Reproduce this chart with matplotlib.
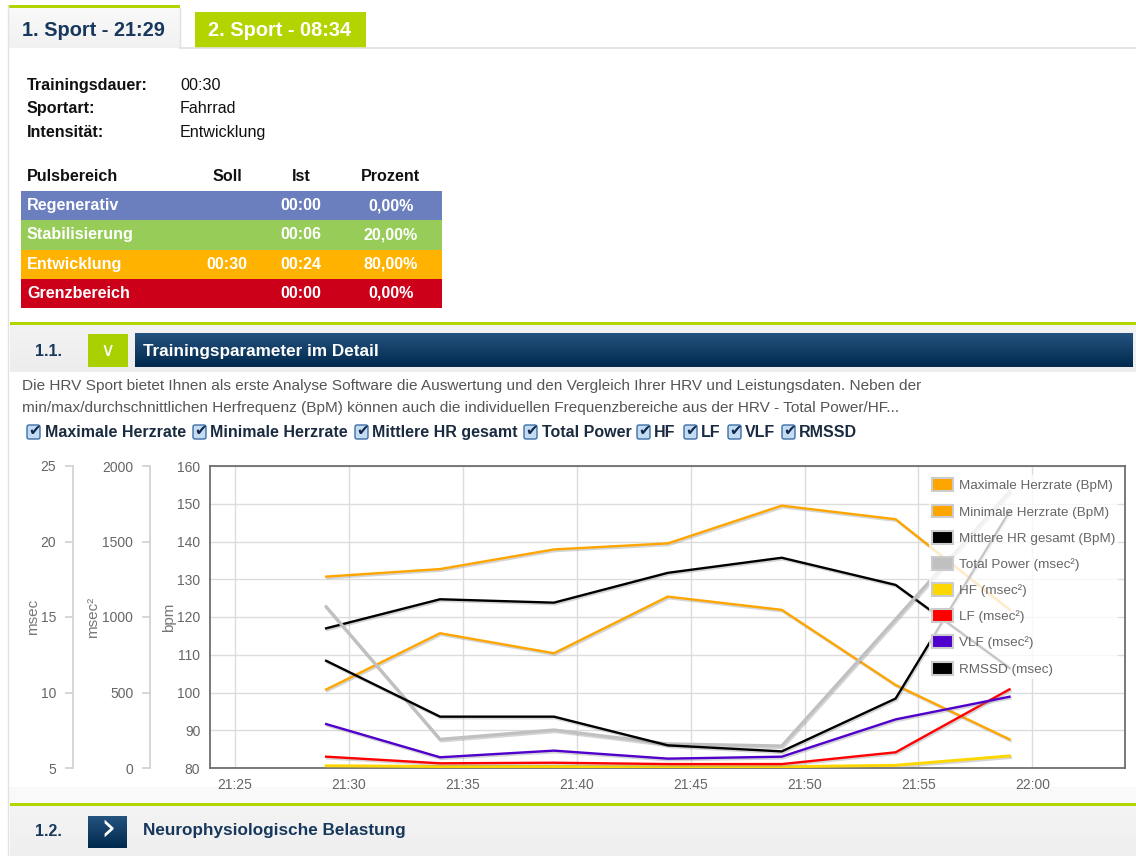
import numpy as np
import matplotlib
matplotlib.use("Agg")
import matplotlib.pyplot as plt
import matplotlib.patheffects as pe
from matplotlib.patches import Rectangle, Patch, FancyBboxPatch
from matplotlib.colors import LinearSegmentedColormap

plt.rcParams["font.family"] = ["Liberation Sans", "DejaVu Sans"]

W, H = 1136, 856

# --- data ---
times = ["21:29", "21:34", "21:39", "21:44", "21:49", "21:54", "21:59"]
max_hr = [130.7, 132.7, 137.9, 139.5, 149.5, 145.9, 122.0]
min_hr = [100.8, 115.7, 110.4, 125.4, 121.9, 102.0, 87.6]
avg_hr = [117.0, 124.7, 123.8, 131.7, 135.7, 128.5, 106.5]
total_power = [1068, 190, 252, 160, 146, 985, 1830]
hf = [15, 10, 10, 8, 8, 18, 80]
lf = [75, 31, 35, 26, 26, 104, 521]
vlf = [291, 71, 115, 62, 75, 322, 472]
rmssd = [12.1, 8.4, 8.4, 6.5, 6.1, 9.6, 22.0]

x_ticks = ["21:25", "21:30", "21:35", "21:40", "21:45", "21:50", "21:55", "22:00"]
bpm_ticks = [80, 90, 100, 110, 120, 130, 140, 150, 160]
power_ticks = [0, 500, 1000, 1500, 2000]
msec_ticks = [5, 10, 15, 20, 25]

legend_labels = ["Maximale Herzrate (BpM)", "Minimale Herzrate (BpM)",
                 "Mittlere HR gesamt (BpM)", "Total Power (msec²)",
                 "HF (msec²)", "LF (msec²)", "VLF (msec²)", "RMSSD (msec)"]
legend_colors = ["#ffa500", "#ffa500", "#000000", "#c0c0c0",
                 "#ffd700", "#ff0000", "#5000cc", "#000000"]

info_labels = ["Trainingsdauer:", "Sportart:", "Intensität:"]
info_values = ["00:30", "Fahrrad", "Entwicklung"]

zone_names = ["Regenerativ", "Stabilisierung", "Entwicklung", "Grenzbereich"]
zone_soll = ["", "", "00:30", ""]
zone_ist = ["00:00", "00:06", "00:24", "00:00"]
zone_pct = ["0,00%", "20,00%", "80,00%", "0,00%"]
zone_colors = ["#6b7fbf", "#98cc58", "#ffb300", "#cc0019"]

check_labels = ["Maximale Herzrate", "Minimale Herzrate", "Mittlere HR gesamt",
                "Total Power", "HF", "LF", "VLF", "RMSSD"]

description = [
    "Die HRV Sport bietet Ihnen als erste Analyse Software die Auswertung und den "
    "Vergleich Ihrer HRV und Leistungsdaten. Neben der",
    "min/max/durchschnittlichen Herfrequenz (BpM) können auch die individuellen "
    "Frequenzbereiche aus der HRV - Total Power/HF...",
]


def to_min(s):
    h, m = s.split(":")
    return (int(h) - 21) * 60 + int(m)


NAVY = "#17385c"
GREEN = "#b4d400"

fig = plt.figure(figsize=(W / 100, H / 100), dpi=100)
fig.patch.set_facecolor("white")

# page layer in pixel coordinates
page = fig.add_axes([0, 0, 1, 1], zorder=-1)
page.axis("off")


def rect(x, y, w, h, color, **kw):
    page.add_patch(Rectangle((x, y), w, h, facecolor=color, lw=0, **kw))


def gradient(x0, y0, x1, y1, top, bottom):
    cmap = LinearSegmentedColormap.from_list("g", [top, bottom])
    page.imshow(np.linspace(0, 1, 64).reshape(-1, 1), cmap=cmap,
                extent=(x0, x1, y1, y0), aspect="auto", interpolation="bilinear")


# tabs
page.plot([8, 8], [5, H], color="#e2e2e2", lw=1)
gradient(8, 5, 180, 48, "#fafafa", "#f1f1f1")
rect(8, 5, 172, 3, GREEN)
page.plot([180, 180], [8, 48], color="#e0e0e0", lw=1)
page.plot([180, W], [48, 48], color="#e0e0e0", lw=1.2)
rect(195, 12, 171, 36, GREEN)
page.text(22, 30, "1. Sport - 21:29", fontsize=14.4, fontweight="bold",
          color=NAVY, va="center")
page.text(208, 30, "2. Sport - 08:34", fontsize=14.4, fontweight="bold",
          color="white", va="center")

# training info
for i, (lab, val) in enumerate(zip(info_labels, info_values)):
    y = 85 + i * 23.5
    page.text(27, y, lab, fontsize=11.6, fontweight="bold", color="#111", va="center")
    page.text(180, y, val, fontsize=11.6, color="#111", va="center")

# zone table
hdr = dict(fontsize=11.6, fontweight="bold", color="#111", va="center")
page.text(27, 176, "Pulsbereich", **hdr)
page.text(227, 176, "Soll", ha="center", **hdr)
page.text(301, 176, "Ist", ha="center", **hdr)
page.text(391, 176, "Prozent", ha="center", **hdr)
for i, (name, soll, ist, pct, c) in enumerate(zip(zone_names, zone_soll, zone_ist, zone_pct, zone_colors)):
    y0 = 191 + i * 29.3
    rect(21, y0, 421, 29.3, c)
    yc = y0 + 14.6
    kw = dict(fontsize=11.6, fontweight="bold", color="white", va="center")
    page.text(27, yc, name, **kw)
    page.text(227, yc, soll, ha="center", **kw)
    page.text(301, yc, ist, ha="center", **kw)
    page.text(391, yc, pct, ha="center", **kw)

# section 1.1 header
rect(10, 322, W - 10, 3, GREEN)
gradient(10, 325, W, 372, "#f3f3f3", "#ededed")
page.text(35, 351, "1.1.", fontsize=11.5, fontweight="bold", color=NAVY, va="center")
rect(88, 334, 40, 33, "#a9d000")
page.text(108, 350, "∨", fontsize=14, color="white", va="center", ha="center",
          family="DejaVu Sans")
gradient(135, 334, 1133, 367, "#24537f", "#01294d")
page.text(143, 351, "Trainingsparameter im Detail", fontsize=12.3, fontweight="bold",
          color="white", va="center")

for i, line in enumerate(description):
    page.text(22, 386 + i * 22, line, fontsize=11.1, color="#555555", va="center")

# checkboxes
box_x = [27, 193, 355, 524, 637, 684, 728, 782]
text_x = [45, 210, 372, 542, 654, 701, 745, 799]
for bx, tx, lab in zip(box_x, text_x, check_labels):
    page.add_patch(FancyBboxPatch((bx, 425), 13, 14, boxstyle="round,pad=0,rounding_size=2",
                                  fc="#c4dcf2", ec="#3b6ea5", lw=1))
    page.text(bx + 8, 430, "✔", fontsize=11, color="#10284a", va="center", ha="center",
              family="DejaVu Sans")
    page.text(tx, 432, lab, fontsize=11.5, fontweight="bold", color="#1a2b40", va="center")

# bottom area / section 1.2
rect(9, 787, W - 9, 18, "#f9f9f9")
rect(10, 803, W - 10, 3, GREEN)
gradient(10, 806, W, H, "#f4f4f4", "#efefef")
page.text(35, 831, "1.2.", fontsize=11.5, fontweight="bold", color=NAVY, va="center")
gradient(88, 816, 127, 848, "#24537f", "#01294d")
page.text(108, 829, "›", fontsize=28, color="white", va="center", ha="center",
          family="DejaVu Sans")
page.text(143, 831, "Neurophysiologische Belastung", fontsize=12.3, fontweight="bold",
          color=NAVY, va="center")

page.set_xlim(0, W)
page.set_ylim(H, 0)

# --- chart ---
ax = fig.add_axes([210 / W, 1 - 768 / H, 915 / W, 302 / H])
ax.set_facecolor("white")
ax_p = ax.twinx()
ax_r = ax.twinx()

x = [to_min(t) for t in times]
ax.set_xlim(23.9, 64.07)
ax.set_ylim(80, 160)
ax.set_yticks(bpm_ticks)
ax.set_xticks([to_min(t) for t in x_ticks])
ax.set_xticklabels(x_ticks)
ax.grid(True, color="#dcdcdc", lw=1)
ax.set_axisbelow(True)
for s in ax.spines.values():
    s.set_color("#6e6e6e")
    s.set_linewidth(1.3)
ax.tick_params(axis="both", length=0, labelsize=10, labelcolor="#666666")
ax.tick_params(axis="y", pad=7)
ax.tick_params(axis="x", pad=7)
ax.set_ylabel("bpm", fontsize=11, color="#777777")
ax.yaxis.set_label_coords(-34 / 915, 0.5)

for a, off, lim, ticks, lab, lx in ((ax_p, -60, (0, 2000), power_ticks, "msec²", -110),
                                      (ax_r, -137, (5, 25), msec_ticks, "msec", -170)):
    a.set_ylim(*lim)
    a.set_yticks(ticks)
    for s in ("right", "top", "bottom"):
        a.spines[s].set_visible(False)
    a.spines["left"].set_visible(True)
    a.spines["left"].set_position(("axes", off / 915))
    a.spines["left"].set_color("#cfcfcf")
    a.spines["left"].set_linewidth(1.2)
    a.yaxis.set_ticks_position("left")
    a.yaxis.set_label_position("left")
    a.tick_params(axis="y", colors="#cfcfcf", labelcolor="#666666", length=6,
                  width=1.2, labelsize=10, pad=6)
    a.set_ylabel(lab, fontsize=11, color="#777777")
    a.yaxis.set_label_coords(lx / 915, 0.5)

shadow = [pe.SimpleLineShadow(offset=(0.8, -1.2), shadow_color="#888888", alpha=0.35),
          pe.Normal()]
lw = 1.7
ax.plot(x, max_hr, color=legend_colors[0], lw=lw, path_effects=shadow)
ax.plot(x, min_hr, color=legend_colors[1], lw=lw, path_effects=shadow)
ax.plot(x, avg_hr, color=legend_colors[2], lw=lw, path_effects=shadow)
ax_p.plot(x, total_power, color=legend_colors[3], lw=lw + 0.6, path_effects=shadow)
ax_p.plot(x, hf, color=legend_colors[4], lw=lw + 0.4, path_effects=shadow)
ax_p.plot(x, lf, color=legend_colors[5], lw=lw, path_effects=shadow)
ax_p.plot(x, vlf, color=legend_colors[6], lw=lw, path_effects=shadow)
ax_r.plot(x, rmssd, color=legend_colors[7], lw=lw, path_effects=shadow)

handles = [Patch(facecolor=c, edgecolor="#cccccc", lw=1.5) for c in legend_colors]
leg = ax_r.legend(handles, legend_labels, loc="upper left",
                  bbox_to_anchor=(929 / W, 1 - 475 / H), bbox_transform=fig.transFigure,
                  frameon=True, fontsize=9.7, handlelength=1.5, handleheight=1.1,
                  handletextpad=0.45, labelspacing=0.9, borderpad=0.25, borderaxespad=0)
frame = leg.get_frame()
frame.set_facecolor("white")
frame.set_alpha(0.78)
frame.set_edgecolor("none")
for t in leg.get_texts():
    t.set_color("#666666")

fig.savefig("out.png", dpi=100)
